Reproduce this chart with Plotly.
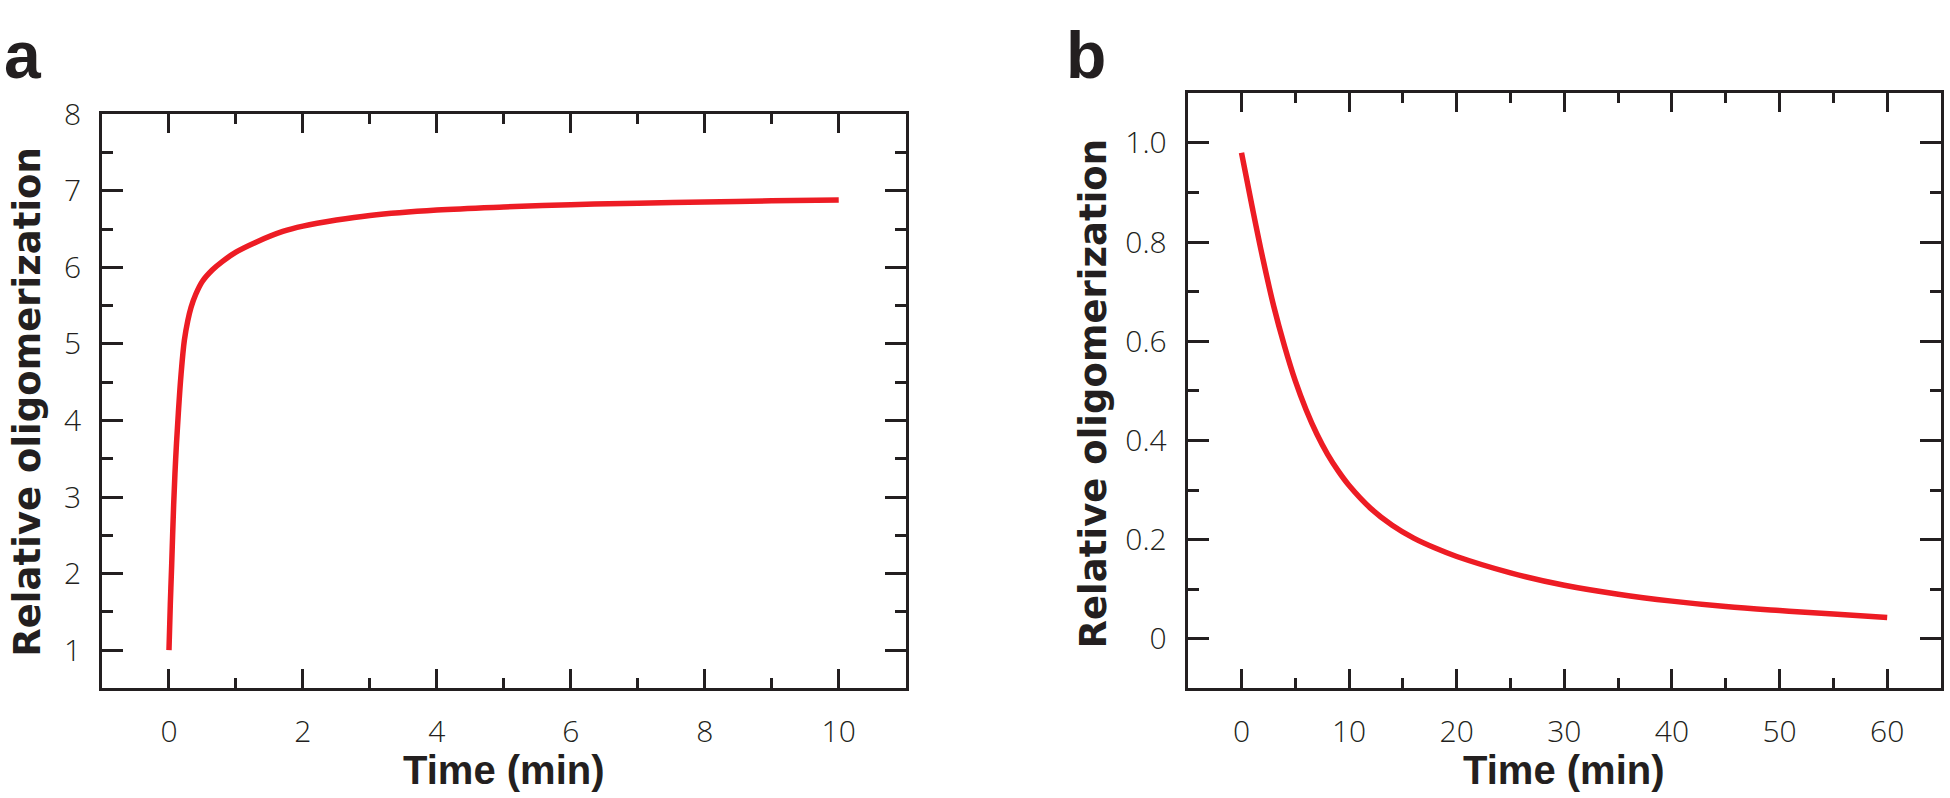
import plotly.graph_objects as go

# ---------------- data ----------------
time_a = [0, 0.02, 0.04, 0.07, 0.1, 0.14, 0.18, 0.23, 0.28, 0.33, 0.4, 0.5, 0.65, 0.8, 1.0, 1.3,
          1.7, 2, 2.5, 3, 4, 5, 6, 7, 8, 9, 10]
olig_a = [1.0, 1.6, 2.1, 2.9, 3.5, 4.1, 4.6, 5.05, 5.3, 5.48, 5.65, 5.82, 5.97, 6.08, 6.2, 6.33,
          6.47, 6.54, 6.62, 6.68, 6.75, 6.79, 6.82, 6.84, 6.855, 6.87, 6.88]

time_b = [0, 1, 2, 3, 4, 5, 6, 7, 8, 9, 10, 12, 14, 16, 18, 20, 25, 30, 35, 40, 45, 50, 55, 60]
olig_b = [0.98, 0.87, 0.765, 0.67, 0.59, 0.52, 0.462, 0.413, 0.372, 0.338, 0.309, 0.263, 0.229,
          0.203, 0.183, 0.166, 0.133, 0.108, 0.09, 0.076, 0.065, 0.057, 0.05, 0.043]

xticks_a = [0, 2, 4, 6, 8, 10]
yticks_a = [1, 2, 3, 4, 5, 6, 7, 8]
xticks_b = [0, 10, 20, 30, 40, 50, 60]
yticks_b = [0, 0.2, 0.4, 0.6, 0.8, 1.0]
yticklabels_b = ["0", "0.2", "0.4", "0.6", "0.8", "1.0"]

panel_labels = ["a", "b"]
x_title = "Time (min)"
y_title = "Relative oligomerization"

# ---------------- style ----------------
W, H = 1950, 798
RED = "#ED1C24"
INK = "#231F20"
TICK_FONT = dict(family="Open Sans, Roboto, Arial", size=30, color=INK, weight=300)
TITLE_FONT = dict(family="Liberation Sans, Arial", size=40, color=INK)
YTITLE_FONT = dict(family="DejaVu Sans, Liberation Sans, Arial", size=37, color=INK)
LETTER_FONT = dict(family="Liberation Sans, Arial", size=66, color=INK)


def px_x(p):
    return p / W


def px_y(p):
    return 1 - p / H


fig = go.Figure()
fig.add_trace(go.Scatter(x=time_a, y=olig_a, mode="lines",
                         line=dict(color=RED, width=5.5, shape="spline", smoothing=1),
                         xaxis="x", yaxis="y", showlegend=False))
fig.add_trace(go.Scatter(x=time_b, y=olig_b, mode="lines",
                         line=dict(color=RED, width=5.5, shape="spline", smoothing=1),
                         xaxis="x2", yaxis="y2", showlegend=False))

common = dict(showline=True, linecolor=INK, linewidth=3, mirror="ticks", ticks="inside",
              tickcolor=INK, tickwidth=3, showgrid=False, zeroline=False, tickfont=TICK_FONT,
              fixedrange=True)


def minor(dt, length):
    return dict(dtick=dt, tick0=0, ticklen=length, tickwidth=3, tickcolor=INK, ticks="inside")


fig.update_layout(
    width=W, height=H,
    margin=dict(l=0, r=0, t=0, b=0),
    paper_bgcolor="white", plot_bgcolor="white",
    xaxis=dict(domain=[px_x(102), px_x(905.7)], range=[-1, 11], anchor="y",
               tickmode="array", tickvals=xticks_a, ticklen=19, minor=minor(1, 10),
               ticklabelstandoff=15, **common),
    yaxis=dict(domain=[px_y(685.3), px_y(95)], range=[0.5, 8], anchor="x",
               tickmode="array", tickvals=yticks_a, ticklen=21, minor=minor(0.5, 11),
               ticklabelstandoff=12, **common),
    xaxis2=dict(domain=[px_x(1187.7), px_x(1941)], range=[-5, 65], anchor="y2",
                tickmode="array", tickvals=xticks_b, ticklen=19, minor=minor(5, 10),
                ticklabelstandoff=15, **common),
    yaxis2=dict(domain=[px_y(685.3), px_y(73.3)], range=[-0.1, 1.1], anchor="x2",
                tickmode="array", tickvals=yticks_b, ticktext=yticklabels_b, ticklen=21,
                minor=minor(0.1, 11), ticklabelstandoff=12, **common),
)

annotations = [
    # axis titles
    dict(text=f"<b>{x_title}</b>", x=px_x(503.8), y=px_y(769), font=TITLE_FONT),
    dict(text=f"<b>{x_title}</b>", x=px_x(1564.4), y=px_y(769), font=TITLE_FONT),
    dict(text=f"<b>{y_title}</b>", x=px_x(27.5), y=px_y(391), font=YTITLE_FONT, textangle=-90),
    dict(text=f"<b>{y_title}</b>", x=px_x(1093), y=px_y(382), font=YTITLE_FONT, textangle=-90),
    # panel letters
    dict(text=f"<b>{panel_labels[0]}</b>", x=px_x(2), y=px_y(-6), xanchor="left", yanchor="top",
         font=LETTER_FONT),
    dict(text=f"<b>{panel_labels[1]}</b>", x=px_x(1064), y=px_y(-6), xanchor="left", yanchor="top",
         font=LETTER_FONT),
]
for a in annotations:
    a.setdefault("xanchor", "center")
    a.setdefault("yanchor", "middle")
    a.update(xref="paper", yref="paper", showarrow=False)
fig.update_layout(annotations=annotations)

# remove the browser's default 8px body margin so the figure fills the window exactly,
# and hide the interactive mode bar
fig.write_html("out.html", config={"displayModeBar": False, "staticPlot": True},
               post_script="document.body.style.margin='0';")
